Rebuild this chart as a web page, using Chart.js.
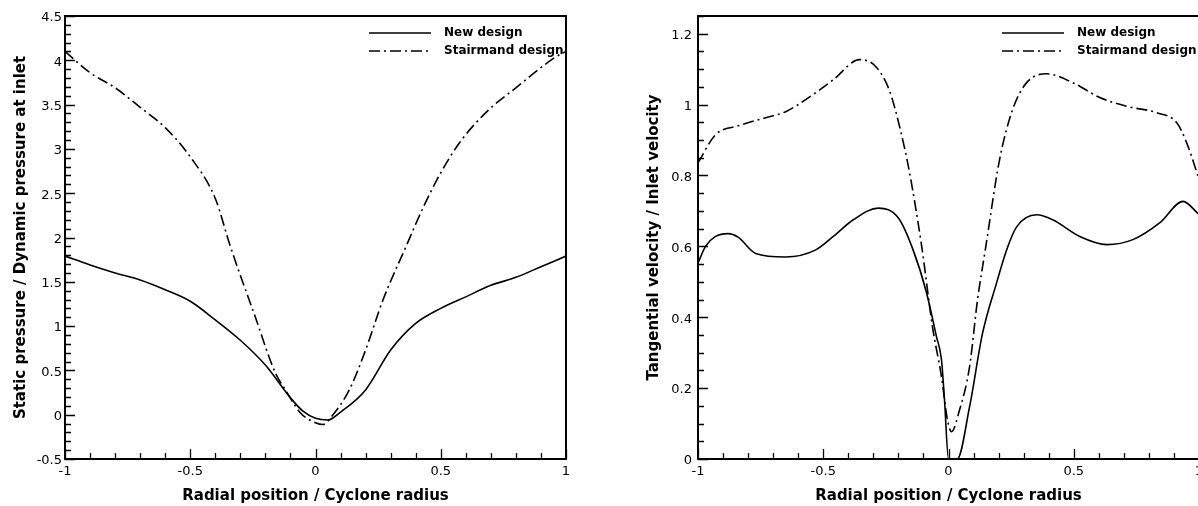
<!DOCTYPE html>
<html>
<head>
<meta charset="utf-8">
<script src="https://cdn.jsdelivr.net/npm/chart.js@4.4.1/dist/chart.umd.min.js"></script>
<style>
  html, body { margin: 0; padding: 0; background: #fff; overflow: hidden; }
  body { width: 1198px; height: 506px; position: relative; }
  canvas { position: absolute; top: 0; }
  #pressureChart { left: 0; }
  #velocityChart { left: 600px; }
</style>
</head>
<body>
<canvas id="pressureChart" width="600" height="506"></canvas>
<canvas id="velocityChart" width="620" height="506"></canvas>
<script>
// ---- static pressure profiles ----
const pressNewX = [-1, -0.9, -0.8, -0.7, -0.6, -0.5, -0.4, -0.3, -0.2, -0.1, -0.05, 0, 0.05, 0.1, 0.2, 0.3, 0.4, 0.5, 0.6, 0.7, 0.8, 0.9, 1];
const pressNewY = [1.79, 1.69, 1.6, 1.52, 1.41, 1.28, 1.07, 0.84, 0.56, 0.19, 0.04, -0.04, -0.06, 0.03, 0.28, 0.73, 1.03, 1.2, 1.33, 1.46, 1.55, 1.67, 1.79];

const pressStairX = [-1, -0.9, -0.8, -0.7, -0.6, -0.5, -0.4, -0.34, -0.24, -0.16, -0.12, -0.06, 0, 0.03, 0.07, 0.135, 0.2, 0.27, 0.36, 0.43, 0.5, 0.575, 0.68, 0.8, 0.96, 1];
const pressStairY = [4.1, 3.86, 3.69, 3.47, 3.24, 2.91, 2.44, 1.9, 1.1, 0.47, 0.28, 0.02, -0.09, -0.11, 0.0, 0.28, 0.73, 1.3, 1.89, 2.34, 2.73, 3.07, 3.41, 3.69, 4.04, 4.1];

// ---- tangential velocity profiles ----
const velNewX = [-1, -0.97, -0.93, -0.88, -0.84, -0.77, -0.65, -0.53, -0.46, -0.38, -0.28, -0.2, -0.144, -0.088, -0.048, -0.028, -0.016, 0, 0.035, 0.084, 0.136, 0.192, 0.232, 0.272, 0.352, 0.416, 0.524, 0.632, 0.736, 0.844, 0.936, 1];
const velNewY = [0.553, 0.6, 0.628, 0.636, 0.626, 0.58, 0.57, 0.59, 0.628, 0.675, 0.708, 0.68, 0.595, 0.47, 0.345, 0.28, 0.167, 0, 0, 0.147, 0.355, 0.497, 0.59, 0.655, 0.689, 0.675, 0.628, 0.605, 0.619, 0.667, 0.727, 0.69];

const velStairX = [-1, -0.93, -0.84, -0.73, -0.65, -0.57, -0.46, -0.355, -0.29, -0.236, -0.196, -0.156, -0.106, -0.064, -0.028, -0.004, 0.012, 0.044, 0.084, 0.116, 0.148, 0.204, 0.256, 0.312, 0.392, 0.496, 0.604, 0.712, 0.832, 0.912, 0.952, 1];
const velStairY = [0.836, 0.915, 0.94, 0.963, 0.98, 1.014, 1.07, 1.127, 1.107, 1.04, 0.94, 0.81, 0.595, 0.373, 0.232, 0.11, 0.077, 0.138, 0.26, 0.45, 0.595, 0.845, 0.986, 1.062, 1.087, 1.062, 1.02, 0.995, 0.977, 0.948, 0.89, 0.79];

const seriesNames = ["New design", "Stairmand design"];
const xTitle = "Radial position / Cyclone radius";
const pressTitle = "Static pressure / Dynamic pressure at inlet";
const velTitle = "Tangential velocity / Inlet velocity";

Chart.defaults.color = "#000";
Chart.defaults.font.family = "'DejaVu Sans', sans-serif";

function points(xs, ys) {
    return xs.map((x, i) => ({ x: x, y: ys[i] }));
}

function stepValues(min, max, step) {
    const n = Math.round((max - min) / step);
    const out = [];
    for (let i = 0; i <= n; i++) out.push(min + i * step);
    return out;
}

function onStep(v, step) {
    const r = v / step;
    return Math.abs(r - Math.round(r)) < 1e-6;
}

// plain labels: 4 instead of 4.0, -1 instead of -1.0
function plainLabel(value) {
    return String(Number(value.toFixed(2)));
}

// inward ticks, box frame and the line legend in the top right corner
const frameAndLegend = {
    id: "frameAndLegend",
    afterDatasetsDraw(chart, args, opts) {
        const { ctx, chartArea: a, scales: { x, y } } = chart;
        ctx.save();
        ctx.strokeStyle = "#000";
        ctx.lineWidth = 1.3;
        ctx.beginPath();
        stepValues(x.min, x.max, opts.xMinor).forEach(v => {
            const px = Math.round(x.getPixelForValue(v)) + 0.5;
            const len = onStep(v, opts.xMajor) ? 10 : 6;
            ctx.moveTo(px, a.bottom);
            ctx.lineTo(px, a.bottom - len);
        });
        stepValues(y.min, y.max, opts.yMinor).forEach(v => {
            const py = Math.round(y.getPixelForValue(v)) + 0.5;
            const len = onStep(v, opts.yMajor) ? 10 : 6;
            ctx.moveTo(a.left, py);
            ctx.lineTo(a.left + len, py);
        });
        ctx.stroke();

        ctx.lineWidth = 2;
        ctx.strokeRect(a.left, a.top, a.right - a.left, a.bottom - a.top);

        // legend
        ctx.font = "bold 12px 'DejaVu Sans', sans-serif";
        ctx.fillStyle = "#000";
        ctx.textBaseline = "middle";
        chart.data.datasets.forEach((ds, i) => {
            const ly = a.top + 17 + i * 18;
            ctx.lineWidth = ds.borderWidth;
            ctx.setLineDash(ds.borderDash || []);
            ctx.beginPath();
            ctx.moveTo(a.right - 197, ly);
            ctx.lineTo(a.right - 135, ly);
            ctx.stroke();
            ctx.setLineDash([]);
            ctx.fillText(ds.label, a.right - 122, ly);
        });
        ctx.restore();
    }
};

function makeChart(id, newPts, stairPts, yOpts, layoutPad, yWidth) {
    return new Chart(document.getElementById(id), {
        type: "line",
        data: {
            datasets: [
                {
                    label: seriesNames[0],
                    data: newPts,
                    borderColor: "#000",
                    borderWidth: 1.6,
                    pointRadius: 0,
                    fill: false,
                    cubicInterpolationMode: "monotone"
                },
                {
                    label: seriesNames[1],
                    data: stairPts,
                    borderColor: "#000",
                    borderWidth: 1.6,
                    borderDash: [11, 4, 2, 4],
                    pointRadius: 0,
                    fill: false,
                    cubicInterpolationMode: "monotone"
                }
            ]
        },
        options: {
            responsive: false,
            animation: false,
            devicePixelRatio: 1,
            layout: { padding: layoutPad },
            plugins: {
                legend: { display: false },
                tooltip: { enabled: false },
                frameAndLegend: { xMinor: 0.1, xMajor: 0.5, yMinor: yOpts.minor, yMajor: yOpts.step }
            },
            scales: {
                x: {
                    type: "linear",
                    min: -1,
                    max: 1,
                    grid: { display: false, drawTicks: false },
                    border: { display: false },
                    ticks: {
                        stepSize: 0.5,
                        autoSkip: false,
                        maxRotation: 0,
                        padding: 5,
                        font: { size: 13 },
                        callback: plainLabel
                    },
                    title: {
                        display: true,
                        text: xTitle,
                        font: { size: 15, weight: "bold" },
                        padding: { top: 0, bottom: 1 }
                    },
                    afterFit(scale) { scale.height = 47; }
                },
                y: {
                    type: "linear",
                    min: yOpts.min,
                    max: yOpts.max,
                    grid: { display: false, drawTicks: false },
                    border: { display: false },
                    ticks: {
                        stepSize: yOpts.step,
                        includeBounds: false,
                        autoSkip: false,
                        padding: yOpts.labelPad,
                        labelOffset: 2,
                        font: { size: 13 },
                        callback: plainLabel
                    },
                    title: {
                        display: true,
                        text: yOpts.title,
                        font: { size: 15, weight: "bold" },
                        padding: { top: yOpts.titlePad, bottom: 0 }
                    },
                    afterFit(scale) { scale.width = yWidth; }
                }
            }
        },
        plugins: [frameAndLegend]
    });
}

makeChart("pressureChart",
    points(pressNewX, pressNewY),
    points(pressStairX, pressStairY),
    { min: -0.5, max: 4.5, step: 0.5, minor: 0.1, title: pressTitle, titlePad: 12, labelPad: 3 },
    { top: 16, right: 34, bottom: 0, left: 0 },
    65);

makeChart("velocityChart",
    points(velNewX, velNewY),
    points(velStairX, velStairY),
    { min: 0, max: 1.25, step: 0.2, minor: 0.05, title: velTitle, titlePad: 45, labelPad: 6 },
    { top: 16, right: 21, bottom: 0, left: 0 },
    98);
</script>
</body>
</html>
